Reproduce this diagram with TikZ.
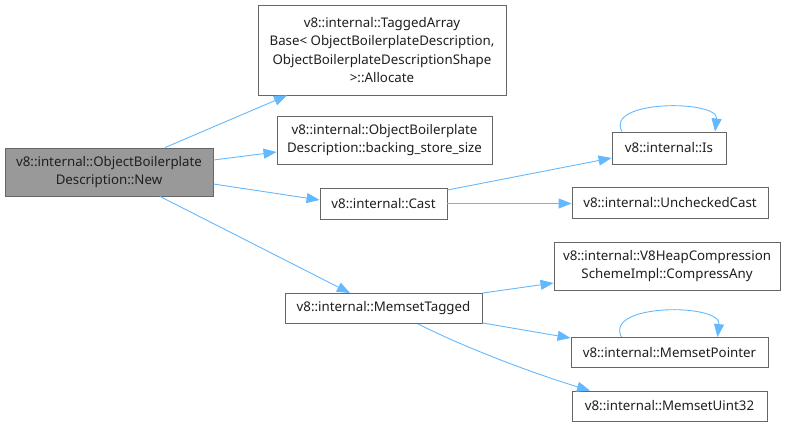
\documentclass[tikz,border=0pt]{standalone}
\usepackage{fontspec}
\setmainfont{Noto Sans}
\usetikzlibrary{arrows.meta,calc}
\definecolor{edgec}{HTML}{63B8FF}
\definecolor{bord}{HTML}{666666}
\definecolor{grayfill}{HTML}{999999}
\begin{document}
\begin{tikzpicture}[x=1pt,y=-1pt,
 box/.style={draw=bord, fill=white, line width=0.9pt, inner sep=0pt, align=center,
   font=\fontsize{13.3}{18.5}\selectfont, text=black!88},
 link/.style={draw=edgec, line width=0.9pt, -{Triangle[length=13pt,width=10pt]}}]
\useasboundingbox (0,0) rectangle (790,426);
\node[box, fill=grayfill, minimum width=208pt, minimum height=48pt] (new) at (109,172)
  {v8::internal::ObjectBoilerplate\\Description::New};
\node[box, minimum width=248pt, minimum height=90pt] (tagged) at (382,50)
  {v8::internal::TaggedArray\\Base< ObjectBoilerplateDescription,\\ObjectBoilerplateDescriptionShape\\ >::Allocate};
\node[box, minimum width=215pt, minimum height=48pt] (backing) at (384.5,140)
  {v8::internal::ObjectBoilerplate\\Description::backing\_store\_size};
\node[box, minimum width=127pt, minimum height=31pt] (cast) at (383.5,203.5) {v8::internal::Cast};
\node[box, minimum width=114pt, minimum height=32pt] (is) at (669,148) {v8::internal::Is};
\node[box, minimum width=196pt, minimum height=31pt] (unchecked) at (670,202.5) {v8::internal::UncheckedCast};
\node[box, minimum width=197pt, minimum height=30pt] (mtagged) at (383.5,308.5) {v8::internal::MemsetTagged};
\node[box, minimum width=226pt, minimum height=48pt] (compress) at (667,266)
  {v8::internal::V8HeapCompression\\SchemeImpl::CompressAny};
\node[box, minimum width=197pt, minimum height=30pt] (mpointer) at (669.5,352.5) {v8::internal::MemsetPointer};
\node[box, minimum width=195pt, minimum height=30pt] (muint) at (669.5,406) {v8::internal::MemsetUint32};

\draw[link] ([xshift=56pt]new.north) -- ([xshift=-95pt]tagged.south);
\draw[link] ([yshift=12pt]new.east) -- ([yshift=-12pt]backing.west);
\draw[link] ([yshift=-12pt]new.east) -- ([yshift=3.5pt]cast.west);
\draw[link] ([xshift=51pt]new.south) -- ([xshift=-33.5pt]mtagged.north);
\draw[link] ([yshift=13.5pt]cast.east) -- ([yshift=-10pt]is.west);
\draw[link] (cast.east) -- (cast.east -| unchecked.west);
\draw[link] ([xshift=-47pt]is.north) .. controls +(-18,-32) and +(4,-32) .. ([xshift=46pt]is.north);
\draw[link] (mtagged.north east) -- ([yshift=-17pt]compress.west);
\draw[link] ([yshift=1pt]mtagged.south east) -- ([yshift=14.5pt]mpointer.west);
\draw[link] ([xshift=34.5pt]mtagged.south) .. controls +(60,30) and +(-40,-12) .. ([xshift=-79.5pt]muint.north);
\draw[link] ([xshift=-48pt]mpointer.north) .. controls +(-18,-34) and +(4,-34) .. ([xshift=48pt]mpointer.north);
\end{tikzpicture}
\end{document}
